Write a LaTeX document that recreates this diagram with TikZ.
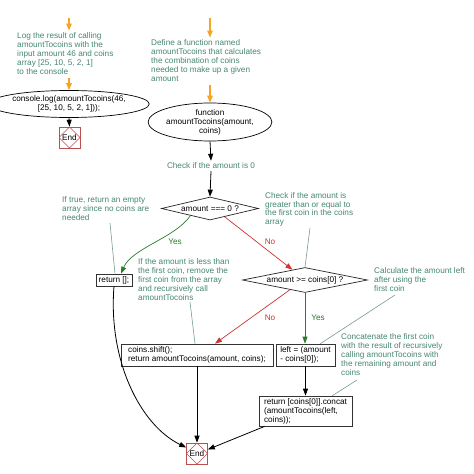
\documentclass[tikz,border=0pt]{standalone}
\usepackage{fontspec}
\setmainfont{Liberation Sans}
\usetikzlibrary{arrows.meta,shapes.geometric,calc}
\definecolor{cmtc}{RGB}{70,135,115}
\definecolor{annl}{RGB}{120,155,145}
\definecolor{yesc}{RGB}{40,125,40}
\definecolor{noc}{RGB}{210,50,50}
\definecolor{orng}{RGB}{245,165,35}
\definecolor{endc}{RGB}{185,80,80}
\begin{document}
\begin{tikzpicture}[x=1pt,y=-1pt,
  every node/.style={font=\fontsize{8.2}{8.9}\selectfont, inner sep=0pt},
  cmt/.style={text=cmtc, align=left, anchor=north west},
  lbl/.style={anchor=center},
  box/.style={draw=black!80, line width=0.7pt, rectangle, align=left},
  oval/.style={draw=black, line width=0.7pt, ellipse, align=center},
  dia/.style={draw=black!85, line width=0.7pt, diamond, aspect=5},
  endbox/.style={draw=endc, line width=0.6pt, rectangle, minimum width=21pt, minimum height=21pt,
    path picture={\draw[endc, line width=0.6pt] (path picture bounding box.north) -- (path picture bounding box.east) -- (path picture bounding box.south) -- (path picture bounding box.west) -- cycle;}},
  flow/.style={draw=black, line width=0.8pt, -{Triangle[length=7pt,width=5pt]}},
  orarrow/.style={draw=orng, line width=1.3pt, -{Triangle[length=7pt,width=5.5pt]}},
  yesl/.style={draw=yesc, line width=0.7pt, -{Triangle[length=7pt,width=5pt]}},
  nol/.style={draw=noc, line width=0.7pt, -{Triangle[length=7pt,width=5pt]}},
  annline/.style={draw=annl, line width=0.6pt},
]
\fill[white] (0,0) rectangle (474,474);
\useasboundingbox (0,0) rectangle (474,474);

% left column
\coordinate (s1) at (69,18);
\node[cmt] (c1) at (17,32.5) {Log the result of calling\\amountTocoins with the\\input amount 46 and coins\\array [25, 10, 5, 2, 1]\\to the console};
\node[oval, minimum width=133pt, minimum height=27pt] (e1) at (69,104) {console.log(amountTocoins(46,\\{}[25, 10, 5, 2, 1]));};
\node[endbox] (end1) at (69.5,137.5) {End};

% main column
\coordinate (s2) at (210,18);
\node[cmt] (c2) at (151,39.5) {Define a function named\\amountTocoins that calculates\\the combination of coins\\needed to make up a given\\amount};
\node[oval, minimum width=110pt, minimum height=38pt] (e2) at (210,122) {function\\amountTocoins(amount,\\coins)};
\node[text=cmtc] (chk) at (211,166) {Check if the amount is 0};
\node[dia, minimum width=97pt, minimum height=23pt] (d1) at (210,208.5) {amount === 0 ?};
\node[cmt] (c3) at (62,196.5) {If true, return an empty\\array since no coins are\\needed};
\node[cmt] (c4) at (265,192) {Check if the amount is\\greater than or equal to\\the first coin in the coins\\array};
\node[box, minimum width=36pt, minimum height=12pt] (ret) at (114,280) {return [];};
\node[dia, minimum width=125pt, minimum height=25pt] (d2) at (305,280) {amount >= coins[0] ?};
\node[cmt] (c5) at (138,258.5) {If the amount is less than\\the first coin, remove the\\first coin from the array\\and recursively call\\amountTocoins};
\node[cmt] (c6) at (374,267.5) {Calculate the amount left\\after using the\\first coin};
\node[box, minimum width=152pt, minimum height=22pt] (shift) at (197,355) {coins.shift();\\return amountTocoins(amount, coins);};
\node[box, minimum width=59pt, minimum height=22pt] (lft) at (305.5,355) {left = (amount\\- coins[0]);};
\node[cmt] (c7) at (341,333.5) {Concatenate the first coin\\with the result of recursively\\calling amountTocoins with\\the remaining amount and\\coins};
\node[box, minimum width=93pt, minimum height=30pt] (cc) at (305.5,411) {return [coins[0]].concat\\(amountTocoins(left,\\coins));};
\node[endbox] (end2) at (197,453.5) {End};

% labels
\node[lbl, text=yesc] (y1) at (175,242) {Yes};
\node[lbl, text=noc] (n1) at (270,242) {No};
\node[lbl, text=noc] (n2) at (270,318) {No};
\node[lbl, text=yesc] (y2) at (318,318) {Yes};

% orange arrows
\draw[orarrow] (s1) -- ([yshift=2pt]s1 |- c1.north);
\draw[orarrow] ([yshift=-3pt]e1.north |- c1.south) -- (e1.north);
\draw[orarrow] (s2) -- ([yshift=2pt]s2 |- c2.north);
\draw[orarrow] ([yshift=-3pt]e2.north |- c2.south) -- (e2.north);

% flow
\draw[flow] (e1.south) -- (end1.north);
\draw[flow] (e2.south) -- ([yshift=2pt]chk.north);
\draw[flow] ([yshift=-2pt]chk.south) -- (d1.north);
\draw[yesl] ($(d1.west)!0.6!(d1.south)$) .. controls (175,238) and (132,248) .. ([xshift=7pt]ret.north);
\draw[nol] ($(d1.east)!0.7!(d1.south)$) -- ($(d2.north)!0.2!(d2.west)$);
\draw[nol] ($(d2.west)!0.76!(d2.south)$) -- ([xshift=18pt]shift.north);
\draw[yesl] (d2.south) -- (d2.south |- lft.north);
\draw[flow] (lft.south) -- (lft.south |- cc.north);
\draw[flow] (shift.south) -- (end2.north);
\draw[flow] ([xshift=6pt]cc.south west) -- ([yshift=4pt]end2.east);
\draw[flow] (ret.south) .. controls (108,360) and (140,425) .. ([yshift=6pt]end2.west);

% annotation lines
\coordinate (a3) at (110,223);
\coordinate (a4) at (310,228);
\coordinate (a5) at (190,302);
\coordinate (a6) at (395,295);
\coordinate (a7) at (357,380);
\draw[annline] (a3) -- ([xshift=1pt]ret.north);
\draw[annline] (a4) -- (d2.north);
\draw[annline] (a5) -- ([xshift=-2pt]shift.north);
\draw[annline] (a6) -- ([xshift=-15pt]lft.north east);
\draw[annline] (a7) -- ([xshift=-20pt]cc.north east);
\end{tikzpicture}
\end{document}
